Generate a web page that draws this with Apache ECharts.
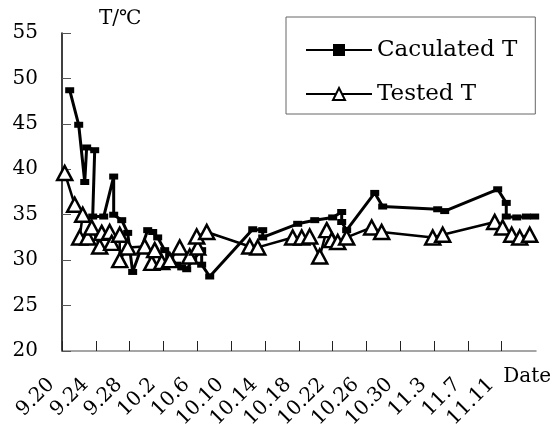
<!DOCTYPE html>
<html><head><meta charset="utf-8">
<script src="https://cdn.jsdelivr.net/npm/echarts@6/dist/echarts.min.js"></script>
<style>html,body{margin:0;padding:0;background:#fff}#c{width:554px;height:443px}</style>
</head><body><div id="c"></div>
<script>
// x tick labels (one every 4 days, day 0 = 9.20)
const xLabels = ['9.20','9.24','9.28','10.2','10.6','10.10','10.14','10.18','10.22','10.26','10.30','11.3','11.7','11.11'];
const dayStep = 4;
const dayMax = 54.2;
// y axis
const yMin = 20, yMax = 55, yStep = 5;
// Caculated T: day offset from 9.20, temperature
const calcDays = [0.88,1.91,2.60,2.82,3.74,3.51,4.77,5.91,5.91,6.83,7.51,8.08,9.80,10.37,10.94,11.74,12.31,13.11,13.69,14.26,14.94,15.97,15.97,16.89,21.81,22.95,22.95,26.95,28.90,30.95,31.98,31.98,32.55,35.76,36.67,42.96,43.76,49.82,50.80,50.80,52.00,53.10,54.05];
const calcT = [48.7,44.9,38.6,42.4,42.1,34.8,34.8,39.2,35.0,34.4,33.0,28.7,33.3,33.1,32.5,31.1,30.4,29.5,29.2,29.0,30.0,31.1,29.5,28.2,33.4,33.3,32.5,34.0,34.4,34.7,35.3,34.2,33.3,37.4,35.9,35.6,35.4,37.8,36.3,34.8,34.7,34.8,34.8];
// Tested T
const testDays = [0.31,1.45,2.37,2.02,2.94,3.40,4.31,4.54,5.45,5.68,6.60,6.60,7.51,9.46,10.26,10.60,11.40,12.32,13.46,14.60,15.52,15.40,16.55,21.47,22.38,26.38,27.41,28.32,29.47,30.27,30.84,31.53,32.55,35.41,36.55,42.39,43.53,49.48,50.39,51.42,52.34,53.48];
const testT = [39.6,36.1,35.0,32.5,32.5,33.6,31.5,33.0,33.1,31.9,32.8,30.0,31.4,31.5,29.7,31.1,29.8,30.0,31.4,30.4,31.4,32.6,33.1,31.5,31.4,32.5,32.5,32.6,30.4,33.3,32.2,32.0,32.5,33.6,33.1,32.5,32.8,34.2,33.6,32.8,32.5,32.8];

const serif = '"DejaVu Serif", "Liberation Serif", serif';
const calcData = calcDays.map((d, i) => [d, calcT[i]]);
const testData = testDays.map((d, i) => [d, testT[i]]);
const lastTickDay = (xLabels.length - 1) * dayStep;

const chart = echarts.init(document.getElementById('c'), null, {renderer: 'canvas'});
chart.setOption({
  animation: false,
  backgroundColor: '#fff',
  textStyle: {fontFamily: serif},
  grid: [
    {left: 62, right: 18, top: 33, bottom: 92},
    {left: 62, right: 37, top: 33, bottom: 92}
  ],
  legend: {
    orient: 'vertical',
    left: 286, top: 17,
    padding: [21, 18, 8, 19],
    itemGap: 20,
    itemWidth: 66, itemHeight: 15,
    borderColor: '#666', borderWidth: 1,
    textStyle: {fontFamily: serif, fontSize: 23, color: '#000', lineHeight: 24},
    data: ['Caculated T', 'Tested T']
  },
  xAxis: [
    {
      type: 'value', gridIndex: 0, min: 0, max: dayMax,
      axisLine: {lineStyle: {color: '#888', width: 1.5}},
      axisTick: {show: false}, axisLabel: {show: false}, splitLine: {show: false}
    },
    {
      type: 'value', gridIndex: 1, min: 0, max: lastTickDay, interval: dayStep,
      axisLine: {show: false},
      axisTick: {inside: true, length: 10, lineStyle: {color: '#222', width: 1}},
      splitLine: {show: false},
      axisLabel: {
        rotate: 45, margin: 20, padding: [0, 15, 0, 0],
        fontFamily: serif, fontSize: 20, color: '#000',
        formatter: v => { const k = Math.round(v / dayStep); return Math.abs(k * dayStep - v) < 1e-6 ? (xLabels[k] || '') : ''; }
      },
      name: 'Date', nameLocation: 'end', nameGap: -9,
      nameTextStyle: {fontFamily: serif, fontSize: 20, color: '#000', align: 'left', verticalAlign: 'top', padding: [16, 0, 0, 0]}
    }
  ],
  yAxis: [
    {
      type: 'value', gridIndex: 0, min: yMin, max: yMax, interval: yStep,
      axisLine: {show: true, lineStyle: {color: '#000', width: 1.5}},
      axisTick: {show: true, inside: true, length: 9, lineStyle: {color: '#555', width: 1}},
      splitLine: {show: false},
      axisLabel: {margin: 24, fontFamily: serif, fontSize: 20, color: '#000'},
      name: 'T/℃', nameLocation: 'end', nameGap: 14,
      nameTextStyle: {fontFamily: serif, fontSize: 20, color: '#000', align: 'left', verticalAlign: 'middle', padding: [0, 0, 0, 37]}
    },
    {type: 'value', gridIndex: 1, min: yMin, max: yMax, show: false}
  ],
  series: [
    {
      name: 'Caculated T', type: 'line', xAxisIndex: 0, yAxisIndex: 0,
      data: calcData, clip: false,
      symbol: 'rect', symbolSize: [9, 6], showAllSymbol: true,
      lineStyle: {color: '#000', width: 3},
      itemStyle: {color: '#000', borderColor: '#000', borderWidth: 0}
    },
    {
      name: 'Tested T', type: 'line', xAxisIndex: 0, yAxisIndex: 0,
      data: testData, clip: false,
      symbol: 'triangle', symbolSize: [15, 14], showAllSymbol: true,
      lineStyle: {color: '#000', width: 2.5},
      itemStyle: {color: '#fff', borderColor: '#000', borderWidth: 2.5}
    }
  ]
});
</script>
</body></html>
